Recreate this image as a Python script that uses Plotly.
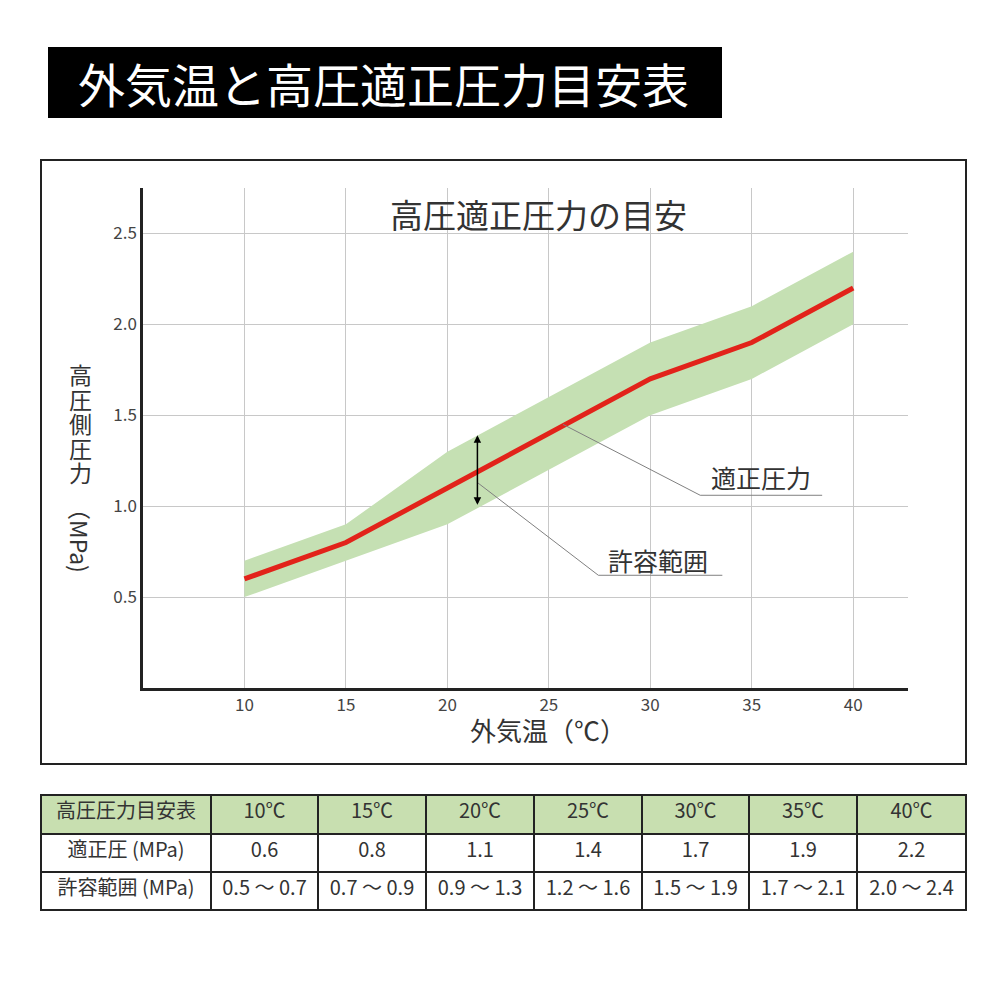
import plotly.graph_objects as go

# data
temps = [10, 15, 20, 25, 30, 35, 40]
proper_pressure = [0.6, 0.8, 1.1, 1.4, 1.7, 1.9, 2.2]
range_low = [0.5, 0.7, 0.9, 1.2, 1.5, 1.7, 2.0]
range_high = [0.7, 0.9, 1.3, 1.6, 1.9, 2.1, 2.4]
y_ticks = [0.5, 1.0, 1.5, 2.0, 2.5]

FONT = "Noto Sans CJK JP"
BAND_GREEN = "#c5e0b3"
HEADER_GREEN = "#c8dfb0"
RED = "#e2231a"
TEXT = "#333333"

# the page body has an 8px margin, so the figure sits at (8, 8)
W = 984
OFF = 8


def px_x(p):
    return (p - OFF) / W


def px_y(p):
    return 1 - (p - OFF) / W


def label(text, x, y, size, color=TEXT, **kw):
    return dict(text=text, xref="paper", yref="paper", x=px_x(x), y=px_y(y),
                xanchor="center", yanchor="middle", showarrow=False,
                font=dict(family=FONT, size=size, color=color), **kw)


fig = go.Figure()

# tolerance band
fig.add_trace(
    go.Scatter(
        x=temps, y=range_low, mode="lines", line=dict(width=0),
        hoverinfo="skip", showlegend=False,
    )
)
fig.add_trace(
    go.Scatter(
        x=temps, y=range_high, mode="lines", line=dict(width=0),
        fill="tonexty", fillcolor=BAND_GREEN, hoverinfo="skip", showlegend=False,
    )
)
# proper pressure line
fig.add_trace(
    go.Scatter(
        x=temps, y=proper_pressure, mode="lines",
        line=dict(color=RED, width=5), showlegend=False,
    )
)

# table under the chart (non-breaking spaces keep each range on one line)
header_cells = ["高圧圧力目安表"] + [f"{t}℃" for t in temps]
row_labels = ["適正圧\u00a0(MPa)", "許容範囲\u00a0(MPa)"]
cell_columns = [row_labels] + [
    [f"{p:.1f}", f"{lo:.1f}\u00a0〜\u00a0{hi:.1f}"]
    for p, lo, hi in zip(proper_pressure, range_low, range_high)
]
fig.add_trace(
    go.Table(
        domain=dict(x=[px_x(41), px_x(966)], y=[px_y(912), px_y(795)]),
        columnwidth=[170, 107, 108, 108, 108, 107, 108, 109],
        header=dict(
            values=header_cells, height=39, fill_color=HEADER_GREEN,
            line=dict(color="#222222", width=2), align="center",
            font=dict(family=FONT, size=20, color=TEXT),
        ),
        cells=dict(
            values=cell_columns, height=38, fill_color="white",
            line=dict(color="#222222", width=2), align="center",
            font=dict(family=FONT, size=20, color=TEXT),
        ),
    )
)

shapes = [
    # black title banner
    dict(type="rect", xref="paper", yref="paper",
         x0=px_x(48), x1=px_x(722), y0=px_y(118), y1=px_y(47),
         fillcolor="black", line=dict(width=0), layer="below"),
    # chart frame
    dict(type="rect", xref="paper", yref="paper",
         x0=px_x(41), x1=px_x(966), y0=px_y(764), y1=px_y(160),
         line=dict(color="#222222", width=2)),
    # leader lines
    dict(type="path", xref="x", yref="y",
         path="M 25.7,1.45 L 32.46,1.06 L 38.47,1.06",
         line=dict(color="#808080", width=1)),
    dict(type="path", xref="x", yref="y",
         path="M 21.48,1.13 L 27.44,0.62 L 33.55,0.62",
         line=dict(color="#808080", width=1)),
]

annotations = [
    label("外気温と高圧適正圧力目安表", 383, 82, 47, color="white"),
    label("高圧適正圧力の目安", 538, 214, 33),
    label("外気温（℃）", 548, 729, 26),
    label("（MPa)", 80, 535, 23, textangle=90),
    label("適正圧力", 761, 477, 25),
    label("許容範囲", 658, 560, 25),
    # double-headed arrow showing the tolerance range
    dict(text="", xref="x", yref="y", axref="x", ayref="y",
         x=21.48, y=1.39, ax=21.48, ay=1.0, showarrow=True,
         arrowhead=2, startarrowhead=2, arrowside="end+start",
         arrowsize=1, arrowwidth=1.5, arrowcolor="black"),
]
# vertical y-axis title: upright characters stacked tightly
for i, ch in enumerate("高圧側圧力"):
    annotations.append(label(ch, 80, 374 + i * 24.6, 23))

fig.update_layout(
    width=W, height=W,
    margin=dict(l=0, r=0, t=0, b=0),
    paper_bgcolor="white", plot_bgcolor="white",
    shapes=shapes, annotations=annotations,
    xaxis=dict(
        domain=[px_x(143), px_x(908)], range=[5, 42.7],
        tickvals=temps, showgrid=True, gridcolor="#c8c8c8", gridwidth=1,
        showline=True, linecolor="#222222", linewidth=2.5,
        zeroline=False, ticks="", fixedrange=True,
        tickfont=dict(family=FONT, size=17, color="#444444"),
    ),
    yaxis=dict(
        domain=[px_y(688), px_y(188)], range=[0, 2.75],
        tickvals=y_ticks, tickformat=".1f",
        showgrid=True, gridcolor="#c8c8c8", gridwidth=1,
        showline=True, linecolor="#222222", linewidth=2.5,
        zeroline=False, ticks="", fixedrange=True,
        tickfont=dict(family=FONT, size=17, color="#444444"),
    ),
)

fig.write_html("out.html")
